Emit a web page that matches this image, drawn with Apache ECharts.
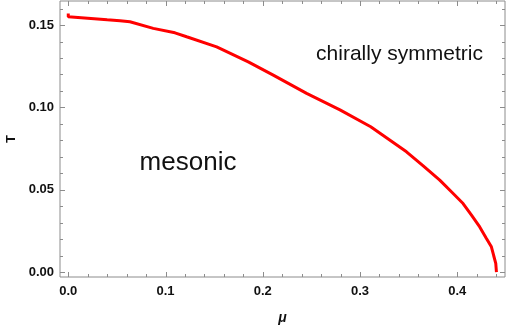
<!DOCTYPE html>
<html>
<head>
<meta charset="utf-8">
<script src="https://cdn.jsdelivr.net/npm/echarts@6/dist/echarts.min.js"></script>
<style>
  html, body { margin: 0; padding: 0; background: #fff; }
  #chart { width: 508px; height: 325px; }
</style>
</head>
<body>
<div id="chart"></div>
<script>
// phase boundary T(mu)
const muValues = [0, 0, 0.02, 0.04, 0.0532, 0.0634, 0.0652, 0.0874, 0.1097, 0.1217, 0.1526, 0.1851,
  0.2108, 0.2451, 0.2794, 0.311, 0.3478, 0.365, 0.382, 0.3945, 0.406, 0.415, 0.4231, 0.43,
  0.4351, 0.4375, 0.4396, 0.4403]
const tValues = [0.157, 0.1551, 0.1542, 0.1532, 0.1526, 0.152, 0.151, 0.148, 0.1453, 0.1429, 0.1368, 0.1277,
  0.1196, 0.1085, 0.0985, 0.0883, 0.0731, 0.0645, 0.0559, 0.0485, 0.0417, 0.0343, 0.0275, 0.0205,
  0.0154, 0.010, 0.0053, 0]

const xMajor = [0, 0.1, 0.2, 0.3, 0.4]
const xMinor = [0.02, 0.04, 0.06, 0.08, 0.12, 0.14, 0.16, 0.18, 0.22, 0.24, 0.26, 0.28,
  0.32, 0.34, 0.36, 0.38, 0.42, 0.44]
const yMajor = [0, 0.05, 0.1, 0.15]
const yMinor = [0.01, 0.02, 0.03, 0.04, 0.06, 0.07, 0.08, 0.09, 0.11, 0.12, 0.13, 0.14, 0.16]

const xRange = [-0.0085, 0.4491]
const yRange = [-0.0029, 0.1646]

const frameColor = '#8c8c8c'
const labelFont = { color: '#111', fontWeight: 'bold', fontSize: 13, fontFamily: 'Liberation Sans' }

// frame ticks on all four sides, pointing inward
function tickSeries(values, len, vertical) {
  return {
    type: 'custom',
    silent: true,
    clip: false,
    data: values.map(v => [v, len]),
    renderItem: (params, api) => {
      const cs = params.coordSys
      const v = api.value(0)
      const l = api.value(1)
      const style = { stroke: frameColor, lineWidth: 1 }
      if (vertical) {
        const x = Math.round(api.coord([v, yRange[0]])[0]) + 0.5
        const b = cs.y + cs.height, t = cs.y
        return { type: 'group', children: [
          { type: 'line', shape: { x1: x, y1: b, x2: x, y2: b - l }, style: style },
          { type: 'line', shape: { x1: x, y1: t, x2: x, y2: t + l }, style: style }
        ] }
      }
      const y = Math.round(api.coord([xRange[0], v])[1]) + 0.5
      const le = cs.x, ri = cs.x + cs.width
      return { type: 'group', children: [
        { type: 'line', shape: { x1: le, y1: y, x2: le + l, y2: y }, style: style },
        { type: 'line', shape: { x1: ri, y1: y, x2: ri - l, y2: y }, style: style }
      ] }
    }
  }
}

const chart = echarts.init(document.getElementById('chart'))

chart.setOption({
  animation: false,
  grid: { left: 60, right: 3, top: 1, bottom: 48, outerBoundsMode: 'none', show: true, borderColor: frameColor, borderWidth: 1 },
  xAxis: {
    type: 'value',
    min: xRange[0],
    max: xRange[1],
    name: 'μ',
    nameLocation: 'middle',
    nameGap: 34,
    nameTextStyle: { color: '#111', fontWeight: 'bold', fontStyle: 'italic', fontSize: 14, fontFamily: 'Liberation Sans' },
    axisLine: { show: false, onZero: false },
    axisTick: { show: false },
    splitLine: { show: false },
    axisLabel: Object.assign({ margin: 8, customValues: xMajor, formatter: v => v.toFixed(1) }, labelFont)
  },
  yAxis: {
    type: 'value',
    min: yRange[0],
    max: yRange[1],
    name: 'T',
    nameLocation: 'middle',
    nameGap: 41,
    nameTextStyle: { color: '#111', fontWeight: 'bold', fontSize: 13, fontFamily: 'Liberation Sans' },
    axisLine: { show: false, onZero: false },
    axisTick: { show: false },
    splitLine: { show: false },
    axisLabel: Object.assign({ margin: 6, customValues: yMajor, formatter: v => v.toFixed(2) }, labelFont)
  },
  graphic: [
    { type: 'text', x: 399.5, y: 54, style: { text: 'chirally symmetric', fill: '#111', font: '21px "Liberation Sans"', align: 'center', verticalAlign: 'middle' } },
    { type: 'text', x: 188, y: 163, style: { text: 'mesonic', fill: '#111', font: '26px "Liberation Sans"', align: 'center', verticalAlign: 'middle' } }
  ],
  series: [
    tickSeries(xMajor, 5, true),
    tickSeries(xMinor, 3, true),
    tickSeries(yMajor, 5, false),
    tickSeries(yMinor, 3, false),
    {
      type: 'line',
      data: muValues.map((m, i) => [m, tValues[i]]),
      showSymbol: false,
      smooth: false,
      lineStyle: { color: '#ff0000', width: 3 }
    }
  ]
})
</script>
</body>
</html>
